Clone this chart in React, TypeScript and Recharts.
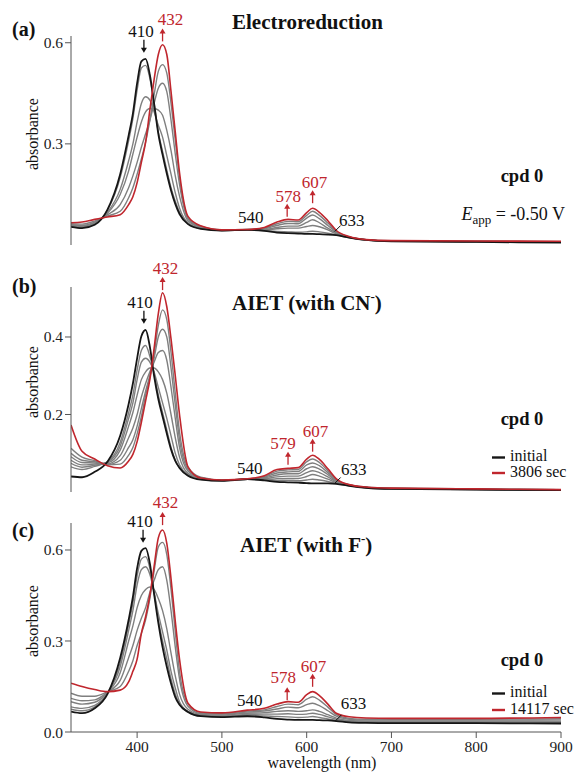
import React from 'react';
import { LineChart, Line, XAxis, YAxis, ReferenceDot } from 'recharts';

// wavelength grid (nm)
const wavelengths = [322, 335, 350, 365, 380, 390, 395, 400, 405, 410, 415, 420, 425, 430, 435, 440, 445, 450, 460, 475, 500, 530, 550, 565, 578, 590, 600, 607, 615, 625, 635, 650, 670, 700, 800, 900];

// (a) electroreduction: initial, intermediates, final
const elec0 = [.054, .050, .060, .105, .210, .325, .390, .480, .545, .552, .505, .420, .330, .268, .212, .162, .122, .092, .062, .048, .043, .045, .042, .037, .035, .034, .033, .033, .032, .031, .029, .022, .015, .011, .009, .007];
const elec1 = [.055, .052, .062, .103, .200, .310, .375, .460, .525, .533, .495, .420, .335, .278, .222, .170, .130, .098, .063, .049, .043, .045, .043, .040, .039, .038, .039, .041, .039, .035, .030, .022, .015, .011, .009, .008];
const elec2 = [.057, .054, .064, .097, .165, .250, .300, .365, .420, .440, .430, .395, .355, .320, .265, .210, .155, .110, .066, .050, .043, .045, .045, .048, .050, .050, .055, .058, .054, .045, .033, .023, .015, .012, .010, .008];
const elec3 = [.058, .056, .066, .094, .150, .220, .270, .320, .365, .395, .405, .405, .400, .385, .340, .280, .205, .145, .072, .052, .044, .045, .046, .052, .056, .056, .067, .075, .066, .050, .036, .023, .015, .012, .010, .009];
const elec4 = [.060, .058, .068, .090, .120, .170, .205, .245, .290, .330, .370, .420, .465, .480, .455, .370, .270, .180, .078, .053, .044, .046, .048, .058, .064, .063, .080, .089, .078, .058, .038, .024, .016, .012, .011, .009];
const elec5 = [.063, .062, .071, .086, .100, .140, .170, .210, .255, .305, .370, .445, .515, .535, .510, .420, .310, .200, .082, .055, .045, .046, .050, .063, .070, .069, .088, .100, .088, .065, .040, .024, .016, .013, .011, .010];
const elec6 = [.066, .068, .076, .083, .090, .120, .143, .185, .245, .305, .400, .490, .565, .594, .565, .455, .335, .215, .085, .057, .045, .046, .052, .068, .076, .074, .096, .109, .097, .072, .043, .025, .016, .013, .012, .011];

// (b) AIET with CN-
const cn0 = [.040, .038, .052, .078, .145, .227, .280, .345, .402, .418, .375, .300, .240, .195, .151, .110, .080, .062, .042, .032, .029, .033, .030, .026, .025, .024, .023, .022, .022, .022, .021, .016, .011, .008, .006, .005];
const cn1 = [.065, .058, .066, .078, .128, .205, .250, .315, .365, .378, .350, .305, .250, .205, .160, .115, .082, .062, .043, .033, .029, .033, .031, .029, .030, .029, .031, .033, .031, .027, .022, .016, .011, .008, .006, .005];
const cn2 = [.074, .064, .069, .077, .118, .190, .230, .290, .335, .345, .335, .310, .270, .230, .190, .145, .100, .070, .045, .034, .030, .033, .032, .034, .035, .035, .040, .045, .041, .033, .024, .017, .011, .008, .006, .005];
const cn3 = [.082, .070, .072, .075, .108, .170, .205, .250, .290, .310, .320, .320, .310, .290, .255, .200, .140, .090, .048, .035, .030, .033, .034, .039, .041, .041, .050, .055, .050, .039, .026, .017, .012, .009, .007, .005];
const cn4 = [.091, .076, .075, .073, .094, .140, .165, .200, .245, .280, .310, .335, .360, .365, .340, .270, .190, .115, .054, .036, .030, .033, .036, .044, .047, .047, .060, .065, .059, .045, .028, .018, .012, .009, .007, .006];
const cn5 = [.100, .082, .078, .071, .082, .115, .135, .170, .215, .260, .300, .345, .400, .420, .400, .320, .225, .135, .059, .037, .030, .033, .038, .049, .052, .053, .070, .075, .068, .050, .030, .018, .012, .009, .007, .006];
const cn6 = [.113, .090, .081, .070, .072, .095, .115, .150, .195, .250, .295, .355, .430, .470, .445, .360, .255, .155, .064, .038, .031, .034, .040, .054, .057, .058, .078, .085, .076, .055, .032, .019, .013, .010, .008, .006];
const cn7 = [.173, .105, .085, .068, .062, .080, .097, .130, .180, .235, .290, .370, .460, .514, .478, .395, .300, .200, .065, .036, .031, .034, .042, .058, .061, .063, .085, .095, .084, .060, .034, .019, .013, .010, .008, .006];

// (c) AIET with F-
const fl0 = [.067, .062, .078, .125, .244, .370, .445, .540, .597, .606, .556, .455, .360, .280, .215, .160, .115, .090, .066, .052, .049, .052, .048, .043, .041, .040, .040, .040, .039, .038, .036, .032, .030, .029, .029, .028];
const fl1 = [.075, .070, .083, .127, .228, .355, .425, .515, .570, .578, .540, .460, .370, .300, .240, .175, .125, .092, .066, .053, .051, .054, .053, .051, .050, .048, .049, .051, .048, .043, .038, .034, .032, .031, .031, .031];
const fl2 = [.083, .078, .088, .128, .215, .335, .400, .485, .535, .545, .520, .460, .390, .330, .270, .200, .145, .100, .068, .055, .053, .058, .059, .059, .060, .058, .059, .062, .058, .050, .042, .036, .034, .033, .033, .033];
const fl3 = [.100, .092, .098, .130, .195, .300, .350, .410, .450, .470, .478, .470, .440, .400, .340, .260, .185, .125, .075, .058, .056, .062, .064, .068, .070, .068, .070, .073, .068, .057, .046, .038, .036, .036, .036, .036];
const fl4 = [.111, .103, .106, .131, .170, .245, .285, .335, .375, .410, .460, .500, .535, .545, .500, .400, .280, .175, .085, .061, .059, .066, .069, .076, .082, .080, .090, .095, .087, .070, .052, .042, .039, .039, .039, .040];
const fl5 = [.128, .118, .118, .132, .150, .200, .235, .285, .325, .370, .440, .530, .610, .625, .585, .470, .330, .200, .093, .064, .061, .069, .073, .084, .092, .090, .108, .116, .105, .082, .057, .045, .042, .042, .042, .044];
const fl6 = [.161, .150, .140, .133, .138, .165, .200, .240, .325, .380, .450, .545, .640, .666, .622, .505, .365, .240, .095, .066, .063, .072, .078, .092, .100, .098, .123, .133, .120, .092, .062, .050, .046, .045, .045, .048];

const elecTicks = [0, 0.3, 0.6];
const cnTicks = [0, 0.2, 0.4];
const flTicks = [0, 0.3, 0.6];
const xTicks = [400, 500, 600, 700, 800, 900];

const SERIF = '"Liberation Serif", "Times New Roman", serif';
const BLACK = '#161616';
const GRAY = '#7f7f7f';
const RED = '#c0262d';
const AXIS = '#555';

type Note = { x: number; y: number; text: string; kind: 'down' | 'up' | 'plain' | 'leader'; dx: number; dy: number };

const makeRows = (series: number[][]) =>
  wavelengths.map((w, i) => {
    const row: Record<string, number> = { w };
    series.forEach((s, k) => {
      row['s' + k] = s[i];
    });
    return row;
  });

const NoteShape = ({ cx, cy, note }: any) => {
  const color = note.kind === 'up' ? RED : '#111';
  return (
    <g>
      {note.kind === 'up' && (
        <g>
          <line x1={cx} y1={cy} x2={cx} y2={cy - 9} stroke={color} strokeWidth={1.3} />
          <polygon points={`${cx - 3},${cy - 8} ${cx + 3},${cy - 8} ${cx},${cy - 13}`} fill={color} />
        </g>
      )}
      {note.kind === 'down' && (
        <g>
          <line x1={cx} y1={cy - 13} x2={cx} y2={cy - 4} stroke={color} strokeWidth={1.3} />
          <polygon points={`${cx - 3},${cy - 5} ${cx + 3},${cy - 5} ${cx},${cy}`} fill={color} />
        </g>
      )}
      {note.kind === 'leader' && <line x1={cx} y1={cy} x2={cx + 6} y2={cy - 6} stroke={color} strokeWidth={1} />}
      <text x={cx + note.dx} y={cy + note.dy} textAnchor="middle" style={{ fontFamily: SERIF }} fontSize={17} fill={color}>
        {note.text}
      </text>
    </g>
  );
};

interface PanelProps {
  top: number;
  height: number;
  margin: { top: number; right: number; bottom: number; left: number };
  yMax: number;
  yTicks: number[];
  series: number[][];
  notes: Note[];
  showX?: boolean;
}

const Panel = ({ top, height, margin, yMax, yTicks, series, notes, showX }: PanelProps) => {
  const rows = makeRows(series);
  const last = series.length - 1;
  const tickStyle = { fontSize: 15.5, fill: '#222', style: { fontFamily: SERIF } };
  return (
    <div style={{ position: 'absolute', left: 0, top }}>
      <LineChart width={575} height={height} data={rows} margin={margin}>
        <XAxis
          dataKey="w"
          type="number"
          domain={[322, 900]}
          allowDataOverflow
          ticks={xTicks}
          hide={!showX}
          height={40}
          stroke={AXIS}
          tickSize={6}
          tickMargin={3}
          tick={tickStyle}
        />
        <YAxis
          type="number"
          domain={[0, yMax]}
          allowDataOverflow
          ticks={yTicks}
          width={71}
          stroke={AXIS}
          tickSize={6}
          tickMargin={2}
          tick={tickStyle}
          tickFormatter={(v: number) => v.toFixed(1)}
        />
        {series.map((_, k) =>
          k === 0 || k === last ? null : (
            <Line key={k} type="monotone" dataKey={'s' + k} stroke={GRAY} strokeWidth={1.4} dot={false} isAnimationActive={false} />
          )
        )}
        <Line type="monotone" dataKey="s0" stroke={BLACK} strokeWidth={1.8} dot={false} isAnimationActive={false} />
        <Line type="monotone" dataKey={'s' + last} stroke={RED} strokeWidth={1.6} dot={false} isAnimationActive={false} />
        {notes.map((n, i) => (
          <ReferenceDot key={i} x={n.x} y={n.y} r={1} ifOverflow="visible" shape={(p: any) => <NoteShape {...p} note={n} />} />
        ))}
      </LineChart>
    </div>
  );
};

const elecNotes: Note[] = [
  { x: 408, y: 0.57, text: '410', kind: 'down', dx: -3, dy: -16 },
  { x: 430, y: 0.604, text: '432', kind: 'up', dx: 8, dy: -16 },
  { x: 534, y: 0.045, text: '540', kind: 'plain', dx: 0, dy: -7 },
  { x: 577, y: 0.084, text: '578', kind: 'up', dx: 1, dy: -15 },
  { x: 607, y: 0.124, text: '607', kind: 'up', dx: 2, dy: -15 },
  { x: 633, y: 0.04, text: '633', kind: 'leader', dx: 17, dy: -6 },
];

const cnNotes: Note[] = [
  { x: 408, y: 0.434, text: '410', kind: 'down', dx: -4, dy: -16 },
  { x: 430, y: 0.521, text: '432', kind: 'up', dx: 3, dy: -16 },
  { x: 534, y: 0.033, text: '540', kind: 'plain', dx: -1, dy: -5 },
  { x: 578, y: 0.07, text: '579', kind: 'up', dx: -5, dy: -16 },
  { x: 607, y: 0.104, text: '607', kind: 'up', dx: 3, dy: -15 },
  { x: 633, y: 0.022, text: '633', kind: 'leader', dx: 19, dy: -8 },
];

const flNotes: Note[] = [
  { x: 407, y: 0.624, text: '410', kind: 'down', dx: -3, dy: -16 },
  { x: 430, y: 0.682, text: '432', kind: 'up', dx: 3, dy: -17 },
  { x: 534, y: 0.058, text: '540', kind: 'plain', dx: -1, dy: -8 },
  { x: 577, y: 0.105, text: '578', kind: 'up', dx: -4, dy: -17 },
  { x: 607, y: 0.149, text: '607', kind: 'up', dx: 1, dy: -15 },
  { x: 634, y: 0.037, text: '633', kind: 'leader', dx: 18, dy: -12 },
];

const Legend = ({ y1, y2, label }: { y1: number; y2: number; label: string }) => (
  <g fontSize={16} fill="#111" style={{ fontFamily: SERIF }}>
    <line x1={492} y1={y1 - 3.5} x2={505} y2={y1 - 3.5} stroke={BLACK} strokeWidth={2.4} />
    <text x={510} y={y1}>initial</text>
    <line x1={492} y1={y2 - 4} x2={505} y2={y2 - 4} stroke={RED} strokeWidth={2.4} />
    <text x={510} y={y2}>{label}</text>
  </g>
);

const App = () => {
  return (
    <div style={{ position: 'absolute', left: 0, top: 0, width: 575, height: 772, background: '#fff' }}>
      <Panel
        top={0}
        height={250}
        margin={{ top: 36, right: 14, bottom: 5, left: 0 }}
        yMax={0.62}
        yTicks={elecTicks}
        series={[elec0, elec1, elec2, elec3, elec4, elec5, elec6]}
        notes={elecNotes}
      />
      <Panel
        top={240}
        height={260}
        margin={{ top: 47, right: 14, bottom: 8, left: 0 }}
        yMax={0.529}
        yTicks={cnTicks}
        series={[cn0, cn1, cn2, cn3, cn4, cn5, cn6, cn7]}
        notes={cnNotes}
      />
      <Panel
        top={470}
        height={302}
        margin={{ top: 53, right: 14, bottom: 0, left: 0 }}
        yMax={0.689}
        yTicks={flTicks}
        series={[fl0, fl1, fl2, fl3, fl4, fl5, fl6]}
        notes={flNotes}
        showX
      />
      <svg width={575} height={772} style={{ position: 'absolute', left: 0, top: 0, pointerEvents: 'none', fontFamily: SERIF }}>
        <g fill="#111">
          <text x={12} y={36} fontSize={20} fontWeight="bold">(a)</text>
          <text x={12} y={293} fontSize={20} fontWeight="bold">(b)</text>
          <text x={12} y={537} fontSize={20} fontWeight="bold">(c)</text>

          <text x={232} y={29} fontSize={21} fontWeight="bold">Electroreduction</text>
          <text x={232} y={310} fontSize={21} fontWeight="bold">
            AIET (with CN<tspan fontSize={13} dy={-9}>-</tspan><tspan dy={9}>)</tspan>
          </text>
          <text x={240} y={552} fontSize={21} fontWeight="bold">
            AIET (with F<tspan fontSize={13} dy={-9}>-</tspan><tspan dy={9}>)</tspan>
          </text>

          <text transform="translate(37.5,134) rotate(-90)" textAnchor="middle" fontSize={16}>absorbance</text>
          <text transform="translate(37.5,382) rotate(-90)" textAnchor="middle" fontSize={16}>absorbance</text>
          <text transform="translate(37.5,621) rotate(-90)" textAnchor="middle" fontSize={16}>absorbance</text>

          <text x={522} y={182} textAnchor="middle" fontSize={18.5} fontWeight="bold">cpd 0</text>
          <text x={522} y={425} textAnchor="middle" fontSize={18.5} fontWeight="bold">cpd 0</text>
          <text x={522} y={666} textAnchor="middle" fontSize={18.5} fontWeight="bold">cpd 0</text>

          <text x={565} y={220} textAnchor="end" fontSize={18}>
            <tspan fontStyle="italic">E</tspan>
            <tspan fontSize={13} dy={4}>app</tspan>
            <tspan dy={-4}> = -0.50 V</tspan>
          </text>

          <text x={322} y={768} textAnchor="middle" fontSize={16}>wavelength (nm)</text>
        </g>
        <Legend y1={461} y2={477} label="3806 sec" />
        <Legend y1={697} y2={714} label="14117 sec" />
      </svg>
    </div>
  );
};

export default App;
